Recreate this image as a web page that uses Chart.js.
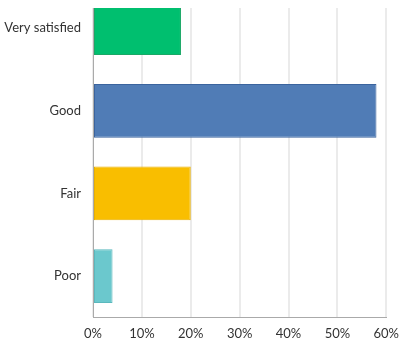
<!DOCTYPE html>
<html>
<head>
<meta charset="utf-8">
<script src="https://cdn.jsdelivr.net/npm/chart.js@4"></script>
<style>
  html, body { margin: 0; padding: 0; background: #fff; }
  #wrap { position: absolute; left: 0; top: 8px; width: 408px; height: 331px; overflow: hidden; }
  #chart { position: absolute; left: 0; top: -41px; }
</style>
</head>
<body>
<div id="wrap"><canvas id="chart" width="408" height="384"></canvas></div>
<script>
// Data
const categories = ['Very satisfied', 'Good', 'Fair', 'Poor'];
const percentValues = [18, 58, 20, 4];
const barColors = ['#00bf6f', '#507cb6', '#f9be00', '#6bc8cd'];
const barBorders = ['#1aa866', '#3b649e', '#e9b000', '#5ab8bd'];

const ctx = document.getElementById('chart').getContext('2d');

const chart = new Chart(ctx, {
  type: 'bar',
  data: {
    labels: categories,
    datasets: [{
      data: percentValues,
      backgroundColor: barColors,
      borderColor: barBorders,
      borderWidth: 1,
      borderSkipped: false,
      categoryPercentage: 1,
      barPercentage: 0.65
    }]
  },
  options: {
    indexAxis: 'y',
    responsive: false,
    animation: false,
    layout: { padding: { top: 0, right: 9, bottom: 0, left: 0 } },
    plugins: {
      legend: { display: false },
      tooltip: { enabled: false }
    },
    scales: {
      x: {
        min: 0,
        max: 60,
        ticks: {
          stepSize: 10,
          padding: 9,
          color: '#333',
          font: { family: 'Lato', size: 13 },
          callback: v => v + '%'
        },
        grid: { color: '#ebebeb', lineWidth: 2, drawTicks: false },
        border: { color: '#aaaaaa', width: 1 }
      },
      y: {
        afterFit: scale => { scale.width = 93; },
        ticks: {
          padding: 12,
          color: '#333',
          font: { family: 'Lato', size: 13 }
        },
        grid: { display: false, drawTicks: false },
        border: { color: '#aaaaaa', width: 1 }
      }
    }
  }
});
</script>
</body>
</html>
